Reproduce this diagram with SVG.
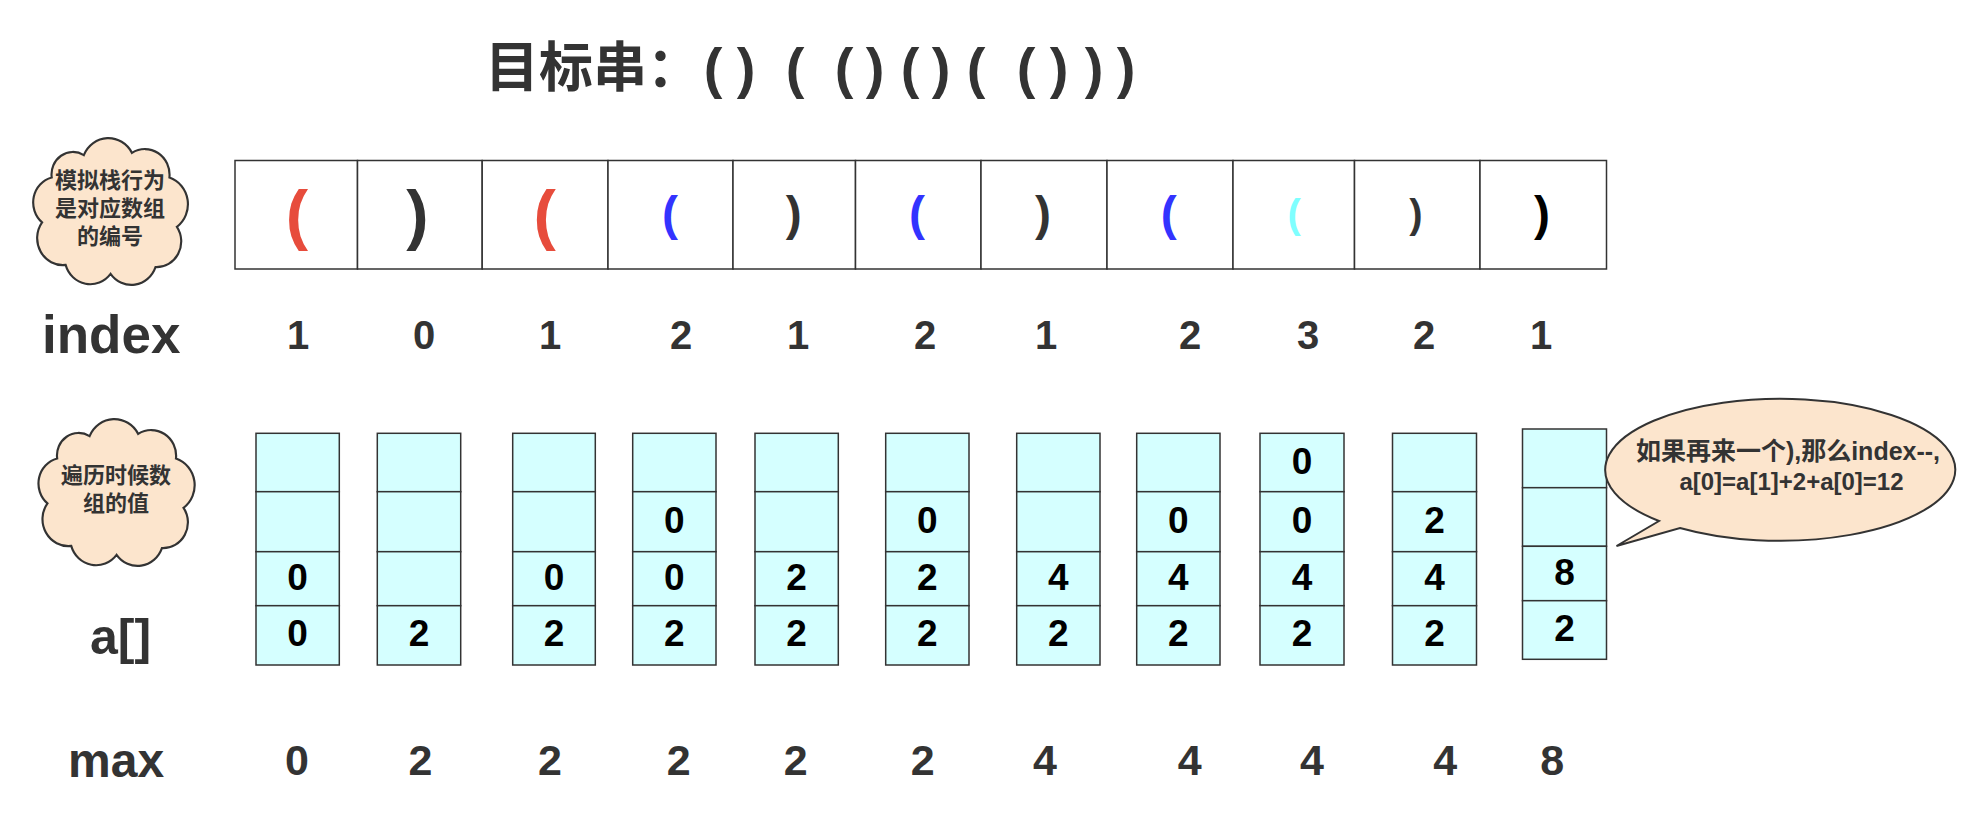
<svg xmlns="http://www.w3.org/2000/svg" xmlns:xlink="http://www.w3.org/1999/xlink" width="1974" height="832" viewBox="0 0 1974 832">
<style>
  text { font-family: "Liberation Sans", "Noto Sans CJK SC", sans-serif; font-weight: bold; fill: #333333; }
  .mid { text-anchor: middle; }
  .cell { fill: #ffffff; stroke: #333333; stroke-width: 1.5; }
  .acell { fill: #d5ffff; stroke: #333333; stroke-width: 1.5; }
  .cloud { fill: #fce5cd; stroke: #333333; stroke-width: 2; }
  .note { font-size: 22px; text-anchor: middle; }
  .big { font-size: 53px; }
  .idx { font-size: 40px; text-anchor: middle; }
  .mx { font-size: 43px; text-anchor: middle; }
  .val { font-size: 37px; text-anchor: middle; fill: #000000; }
  .red { fill: #e74c3c; }
  .blue { fill: #3333ff; }
  .cyan { fill: #7fffff; }
  .blk { fill: #000000; }
</style>
<defs>
  <path id="cloudShape" d="M 55 178 A 20 20 0 0 1 85 158 A 25 25 0 0 1 130 156 A 23 23 0 0 1 165 178 A 25 25 0 0 1 172 222 A 23 23 0 0 1 152 258 A 24 24 0 0 1 110 264 A 24 24 0 0 1 68 256 A 24 24 0 0 1 46 218 A 23 23 0 0 1 55 178 Z"/>
</defs>
<rect width="1974" height="832" fill="#ffffff"/>

<g id="title">
  <text x="485" y="87" font-size="54">目标串：</text>
  <text y="87" font-size="56" class="mid" x="713 746 795 844 875 910 941 976 1026 1059 1094 1126">()(()()(()))</text>
</g>

<g id="cloud-stack">
  <use xlink:href="#cloudShape" class="cloud" transform="translate(109.5,210) scale(1.07,1.12) translate(-109,-207)"/>
  <text class="note" x="110" y="188">模拟栈行为</text>
  <text class="note" x="110" y="216">是对应数组</text>
  <text class="note" x="110" y="244">的编号</text>
</g>

<g id="string-table">
  <rect class="cell" x="235" y="160.5" width="122.5" height="108.5"/>
  <rect class="cell" x="357.5" y="160.5" width="124.7" height="108.5"/>
  <rect class="cell" x="482.2" y="160.5" width="125.8" height="108.5"/>
  <rect class="cell" x="608" y="160.5" width="125" height="108.5"/>
  <rect class="cell" x="733" y="160.5" width="122.5" height="108.5"/>
  <rect class="cell" x="855.5" y="160.5" width="125.5" height="108.5"/>
  <rect class="cell" x="981" y="160.5" width="126" height="108.5"/>
  <rect class="cell" x="1107" y="160.5" width="126" height="108.5"/>
  <rect class="cell" x="1233" y="160.5" width="121.5" height="108.5"/>
  <rect class="cell" x="1354.5" y="160.5" width="125.5" height="108.5"/>
  <rect class="cell" x="1480" y="160.5" width="126.5" height="108.5"/>
  <text class="mid red" x="297" y="237" font-size="67">(</text>
  <text class="mid" x="417.4" y="237" font-size="67">)</text>
  <text class="mid red" x="544.6" y="237" font-size="67">(</text>
  <text class="mid blue" x="670" y="230" font-size="48">(</text>
  <text class="mid" x="793.8" y="230" font-size="48">)</text>
  <text class="mid blue" x="917" y="230" font-size="48">(</text>
  <text class="mid" x="1042.9" y="230" font-size="48">)</text>
  <text class="mid blue" x="1168.8" y="230" font-size="48">(</text>
  <text class="mid cyan" x="1294.2" y="228" font-size="40" font-weight="normal">(</text>
  <text class="mid" x="1416" y="228" font-size="40" font-weight="normal">)</text>
  <text class="mid blk" x="1542" y="230" font-size="48">)</text>
</g>

<g id="index-row">
  <text class="big" x="42" y="353">index</text>
  <text class="idx" x="298" y="349">1</text>
  <text class="idx" x="424" y="349">0</text>
  <text class="idx" x="550" y="349">1</text>
  <text class="idx" x="681" y="349">2</text>
  <text class="idx" x="798" y="349">1</text>
  <text class="idx" x="925" y="349">2</text>
  <text class="idx" x="1046" y="349">1</text>
  <text class="idx" x="1190" y="349">2</text>
  <text class="idx" x="1308" y="349">3</text>
  <text class="idx" x="1424" y="349">2</text>
  <text class="idx" x="1541" y="349">1</text>
</g>

<g id="cloud-values">
  <use xlink:href="#cloudShape" class="cloud" transform="translate(115.5,491) scale(1.08,1.12) translate(-109,-207)"/>
  <text class="note" x="116" y="483">遍历时候数</text>
  <text class="note" x="116" y="511">组的值</text>
</g>

<g id="array-label">
  <text x="90" y="654" font-size="50">a[]</text>
</g>

<g id="array-col-1">
  <rect class="acell" x="256" y="433.3" width="83.3" height="58.4"/>
  <rect class="acell" x="256" y="491.7" width="83.3" height="60"/>
  <rect class="acell" x="256" y="551.7" width="83.3" height="54"/>
  <rect class="acell" x="256" y="605.7" width="83.3" height="59.3"/>
  <text class="val" x="297.6" y="590">0</text>
  <text class="val" x="297.6" y="646">0</text>
</g>
<g id="array-col-2">
  <rect class="acell" x="377.3" y="433.3" width="83.4" height="58.4"/>
  <rect class="acell" x="377.3" y="491.7" width="83.4" height="60"/>
  <rect class="acell" x="377.3" y="551.7" width="83.4" height="54"/>
  <rect class="acell" x="377.3" y="605.7" width="83.4" height="59.3"/>
  <text class="val" x="419" y="646">2</text>
</g>
<g id="array-col-3">
  <rect class="acell" x="512.7" y="433.3" width="82.6" height="58.4"/>
  <rect class="acell" x="512.7" y="491.7" width="82.6" height="60"/>
  <rect class="acell" x="512.7" y="551.7" width="82.6" height="54"/>
  <rect class="acell" x="512.7" y="605.7" width="82.6" height="59.3"/>
  <text class="val" x="554" y="590">0</text>
  <text class="val" x="554" y="646">2</text>
</g>
<g id="array-col-4">
  <rect class="acell" x="632.7" y="433.3" width="83.3" height="58.4"/>
  <rect class="acell" x="632.7" y="491.7" width="83.3" height="60"/>
  <rect class="acell" x="632.7" y="551.7" width="83.3" height="54"/>
  <rect class="acell" x="632.7" y="605.7" width="83.3" height="59.3"/>
  <text class="val" x="674.3" y="533">0</text>
  <text class="val" x="674.3" y="590">0</text>
  <text class="val" x="674.3" y="646">2</text>
</g>
<g id="array-col-5">
  <rect class="acell" x="755" y="433.3" width="83.3" height="58.4"/>
  <rect class="acell" x="755" y="491.7" width="83.3" height="60"/>
  <rect class="acell" x="755" y="551.7" width="83.3" height="54"/>
  <rect class="acell" x="755" y="605.7" width="83.3" height="59.3"/>
  <text class="val" x="796.6" y="590">2</text>
  <text class="val" x="796.6" y="646">2</text>
</g>
<g id="array-col-6">
  <rect class="acell" x="885.7" y="433.3" width="83.3" height="58.4"/>
  <rect class="acell" x="885.7" y="491.7" width="83.3" height="60"/>
  <rect class="acell" x="885.7" y="551.7" width="83.3" height="54"/>
  <rect class="acell" x="885.7" y="605.7" width="83.3" height="59.3"/>
  <text class="val" x="927.3" y="533">0</text>
  <text class="val" x="927.3" y="590">2</text>
  <text class="val" x="927.3" y="646">2</text>
</g>
<g id="array-col-7">
  <rect class="acell" x="1016.7" y="433.3" width="83.3" height="58.4"/>
  <rect class="acell" x="1016.7" y="491.7" width="83.3" height="60"/>
  <rect class="acell" x="1016.7" y="551.7" width="83.3" height="54"/>
  <rect class="acell" x="1016.7" y="605.7" width="83.3" height="59.3"/>
  <text class="val" x="1058.3" y="590">4</text>
  <text class="val" x="1058.3" y="646">2</text>
</g>
<g id="array-col-8">
  <rect class="acell" x="1136.7" y="433.3" width="83.3" height="58.4"/>
  <rect class="acell" x="1136.7" y="491.7" width="83.3" height="60"/>
  <rect class="acell" x="1136.7" y="551.7" width="83.3" height="54"/>
  <rect class="acell" x="1136.7" y="605.7" width="83.3" height="59.3"/>
  <text class="val" x="1178.3" y="533">0</text>
  <text class="val" x="1178.3" y="590">4</text>
  <text class="val" x="1178.3" y="646">2</text>
</g>
<g id="array-col-9">
  <rect class="acell" x="1260" y="433.3" width="84" height="58.4"/>
  <rect class="acell" x="1260" y="491.7" width="84" height="60"/>
  <rect class="acell" x="1260" y="551.7" width="84" height="54"/>
  <rect class="acell" x="1260" y="605.7" width="84" height="59.3"/>
  <text class="val" x="1302" y="474">0</text>
  <text class="val" x="1302" y="533">0</text>
  <text class="val" x="1302" y="590">4</text>
  <text class="val" x="1302" y="646">2</text>
</g>
<g id="array-col-10">
  <rect class="acell" x="1392.5" y="433.3" width="84" height="58.4"/>
  <rect class="acell" x="1392.5" y="491.7" width="84" height="60"/>
  <rect class="acell" x="1392.5" y="551.7" width="84" height="54"/>
  <rect class="acell" x="1392.5" y="605.7" width="84" height="59.3"/>
  <text class="val" x="1434.5" y="533">2</text>
  <text class="val" x="1434.5" y="590">4</text>
  <text class="val" x="1434.5" y="646">2</text>
</g>
<g id="array-col-11">
  <rect class="acell" x="1522.5" y="429" width="84" height="58.7"/>
  <rect class="acell" x="1522.5" y="487.7" width="84" height="58.6"/>
  <rect class="acell" x="1522.5" y="546.3" width="84" height="54.4"/>
  <rect class="acell" x="1522.5" y="600.7" width="84" height="58.6"/>
  <text class="val" x="1564.5" y="585">8</text>
  <text class="val" x="1564.5" y="641">2</text>
</g>

<g id="speech-bubble">
  <path class="cloud" d="M 1659 521 A 175 71 0 1 1 1680 528 L 1616.5 546 Z"/>
  <text x="1788" y="460" font-size="25" class="mid">如果再来一个),那么index--,</text>
  <text x="1791.5" y="490" font-size="24" class="mid">a[0]=a[1]+2+a[0]=12</text>
</g>

<g id="max-row">
  <text x="68" y="777" font-size="48">max</text>
  <text class="mx" x="297" y="775">0</text>
  <text class="mx" x="420.5" y="775">2</text>
  <text class="mx" x="550" y="775">2</text>
  <text class="mx" x="678.6" y="775">2</text>
  <text class="mx" x="795.7" y="775">2</text>
  <text class="mx" x="922.8" y="775">2</text>
  <text class="mx" x="1045" y="775">4</text>
  <text class="mx" x="1189.7" y="775">4</text>
  <text class="mx" x="1312" y="775">4</text>
  <text class="mx" x="1445.3" y="775">4</text>
  <text class="mx" x="1552.3" y="775">8</text>
</g>

<g id="connectors"></g>
</svg>
